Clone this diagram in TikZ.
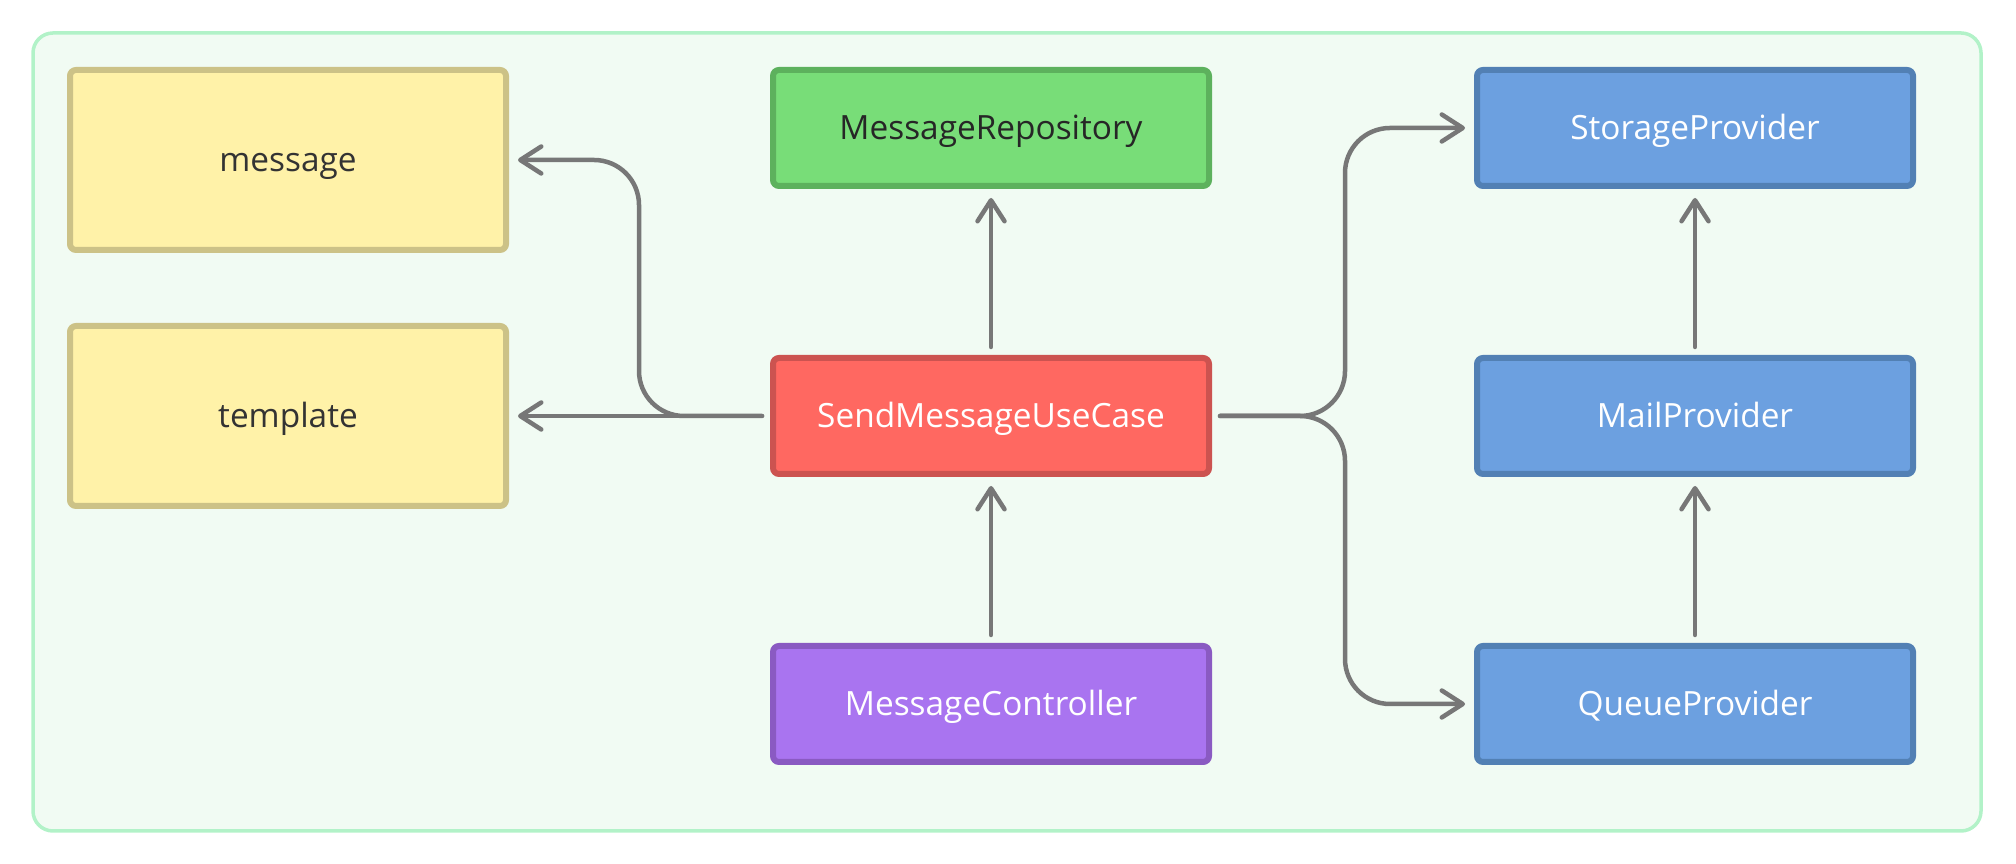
\documentclass[tikz,border=0pt]{standalone}
\usepackage{fontspec}
\setmainfont{Open Sans}
\usepackage{tikz}
\usetikzlibrary{arrows.meta}

\definecolor{framefill}{HTML}{F1FBF3}
\definecolor{frameline}{HTML}{B2F2C8}
\definecolor{linkgray}{HTML}{777777}
\definecolor{yelfill}{HTML}{FFF2A8}
\definecolor{yelline}{HTML}{CCC287}
\definecolor{grnfill}{HTML}{78DD78}
\definecolor{grnline}{HTML}{5DB15D}
\definecolor{redfill}{HTML}{FF6861}
\definecolor{redline}{HTML}{CC5350}
\definecolor{purfill}{HTML}{A974F0}
\definecolor{purline}{HTML}{8A5AC2}
\definecolor{bluefill}{HTML}{6CA0E0}
\definecolor{blueline}{HTML}{5280B4}

\begin{document}
\begin{tikzpicture}[
    box/.style = {draw, line width=0.06cm, rounded corners=0.06cm, minimum width=4.36cm,
                  minimum height=1.16cm, text height=6.8pt, text depth=0pt,
                  font=\fontsize{9.5pt}{11pt}\selectfont, text=white},
    entity/.style = {box, fill=yelfill, draw=yelline, minimum height=1.80cm, text=black!80},
    repo/.style = {box, fill=grnfill, draw=grnline, text=black!85},
    usecase/.style = {box, fill=redfill, draw=redline},
    ctrl/.style = {box, fill=purfill, draw=purline},
    provider/.style = {box, fill=bluefill, draw=blueline},
    link/.style = {draw=linkgray, line width=0.045cm, line cap=round, rounded corners=0.45cm,
                   -{Straight Barb[length=0.21cm, width=0.27cm, round]},
                   shorten >=0.09cm, shorten <=0.08cm}
]
    \useasboundingbox (0,0) rectangle (20.16,8.64);
    \draw[fill=framefill, draw=frameline, line width=0.035cm, rounded corners=0.2cm] (0.33,0.33) rectangle (19.81,8.31);

    \node[entity] (message) at (2.88,7.04) {message};
    \node[entity] (template) at (2.88,4.48) {template};
    \node[repo] (msgrepo) at (9.91,7.36) {MessageRepository};
    \node[usecase] (sendmsg) at (9.91,4.48) {SendMessageUseCase};
    \node[ctrl] (msgctrl) at (9.91,1.60) {MessageController};
    \node[provider] (storage) at (16.95,7.36) {StorageProvider};
    \node[provider] (mail) at (16.95,4.48) {MailProvider};
    \node[provider] (queue) at (16.95,1.60) {QueueProvider};

    \draw[link] (sendmsg.west) -- (template.east);
    \draw[link] (sendmsg.west) -| ([xshift=1.30cm]message.east) -- (message.east);
    \draw[link] (sendmsg.north) -- (msgrepo.south);
    \draw[link] (msgctrl.north) -- (sendmsg.south);
    \draw[link] (sendmsg.east) -| ([xshift=-1.29cm]storage.west) -- (storage.west);
    \draw[link] (sendmsg.east) -| ([xshift=-1.29cm]queue.west) -- (queue.west);
    \draw[link] (mail.north) -- (storage.south);
    \draw[link] (queue.north) -- (mail.south);
\end{tikzpicture}
\end{document}
